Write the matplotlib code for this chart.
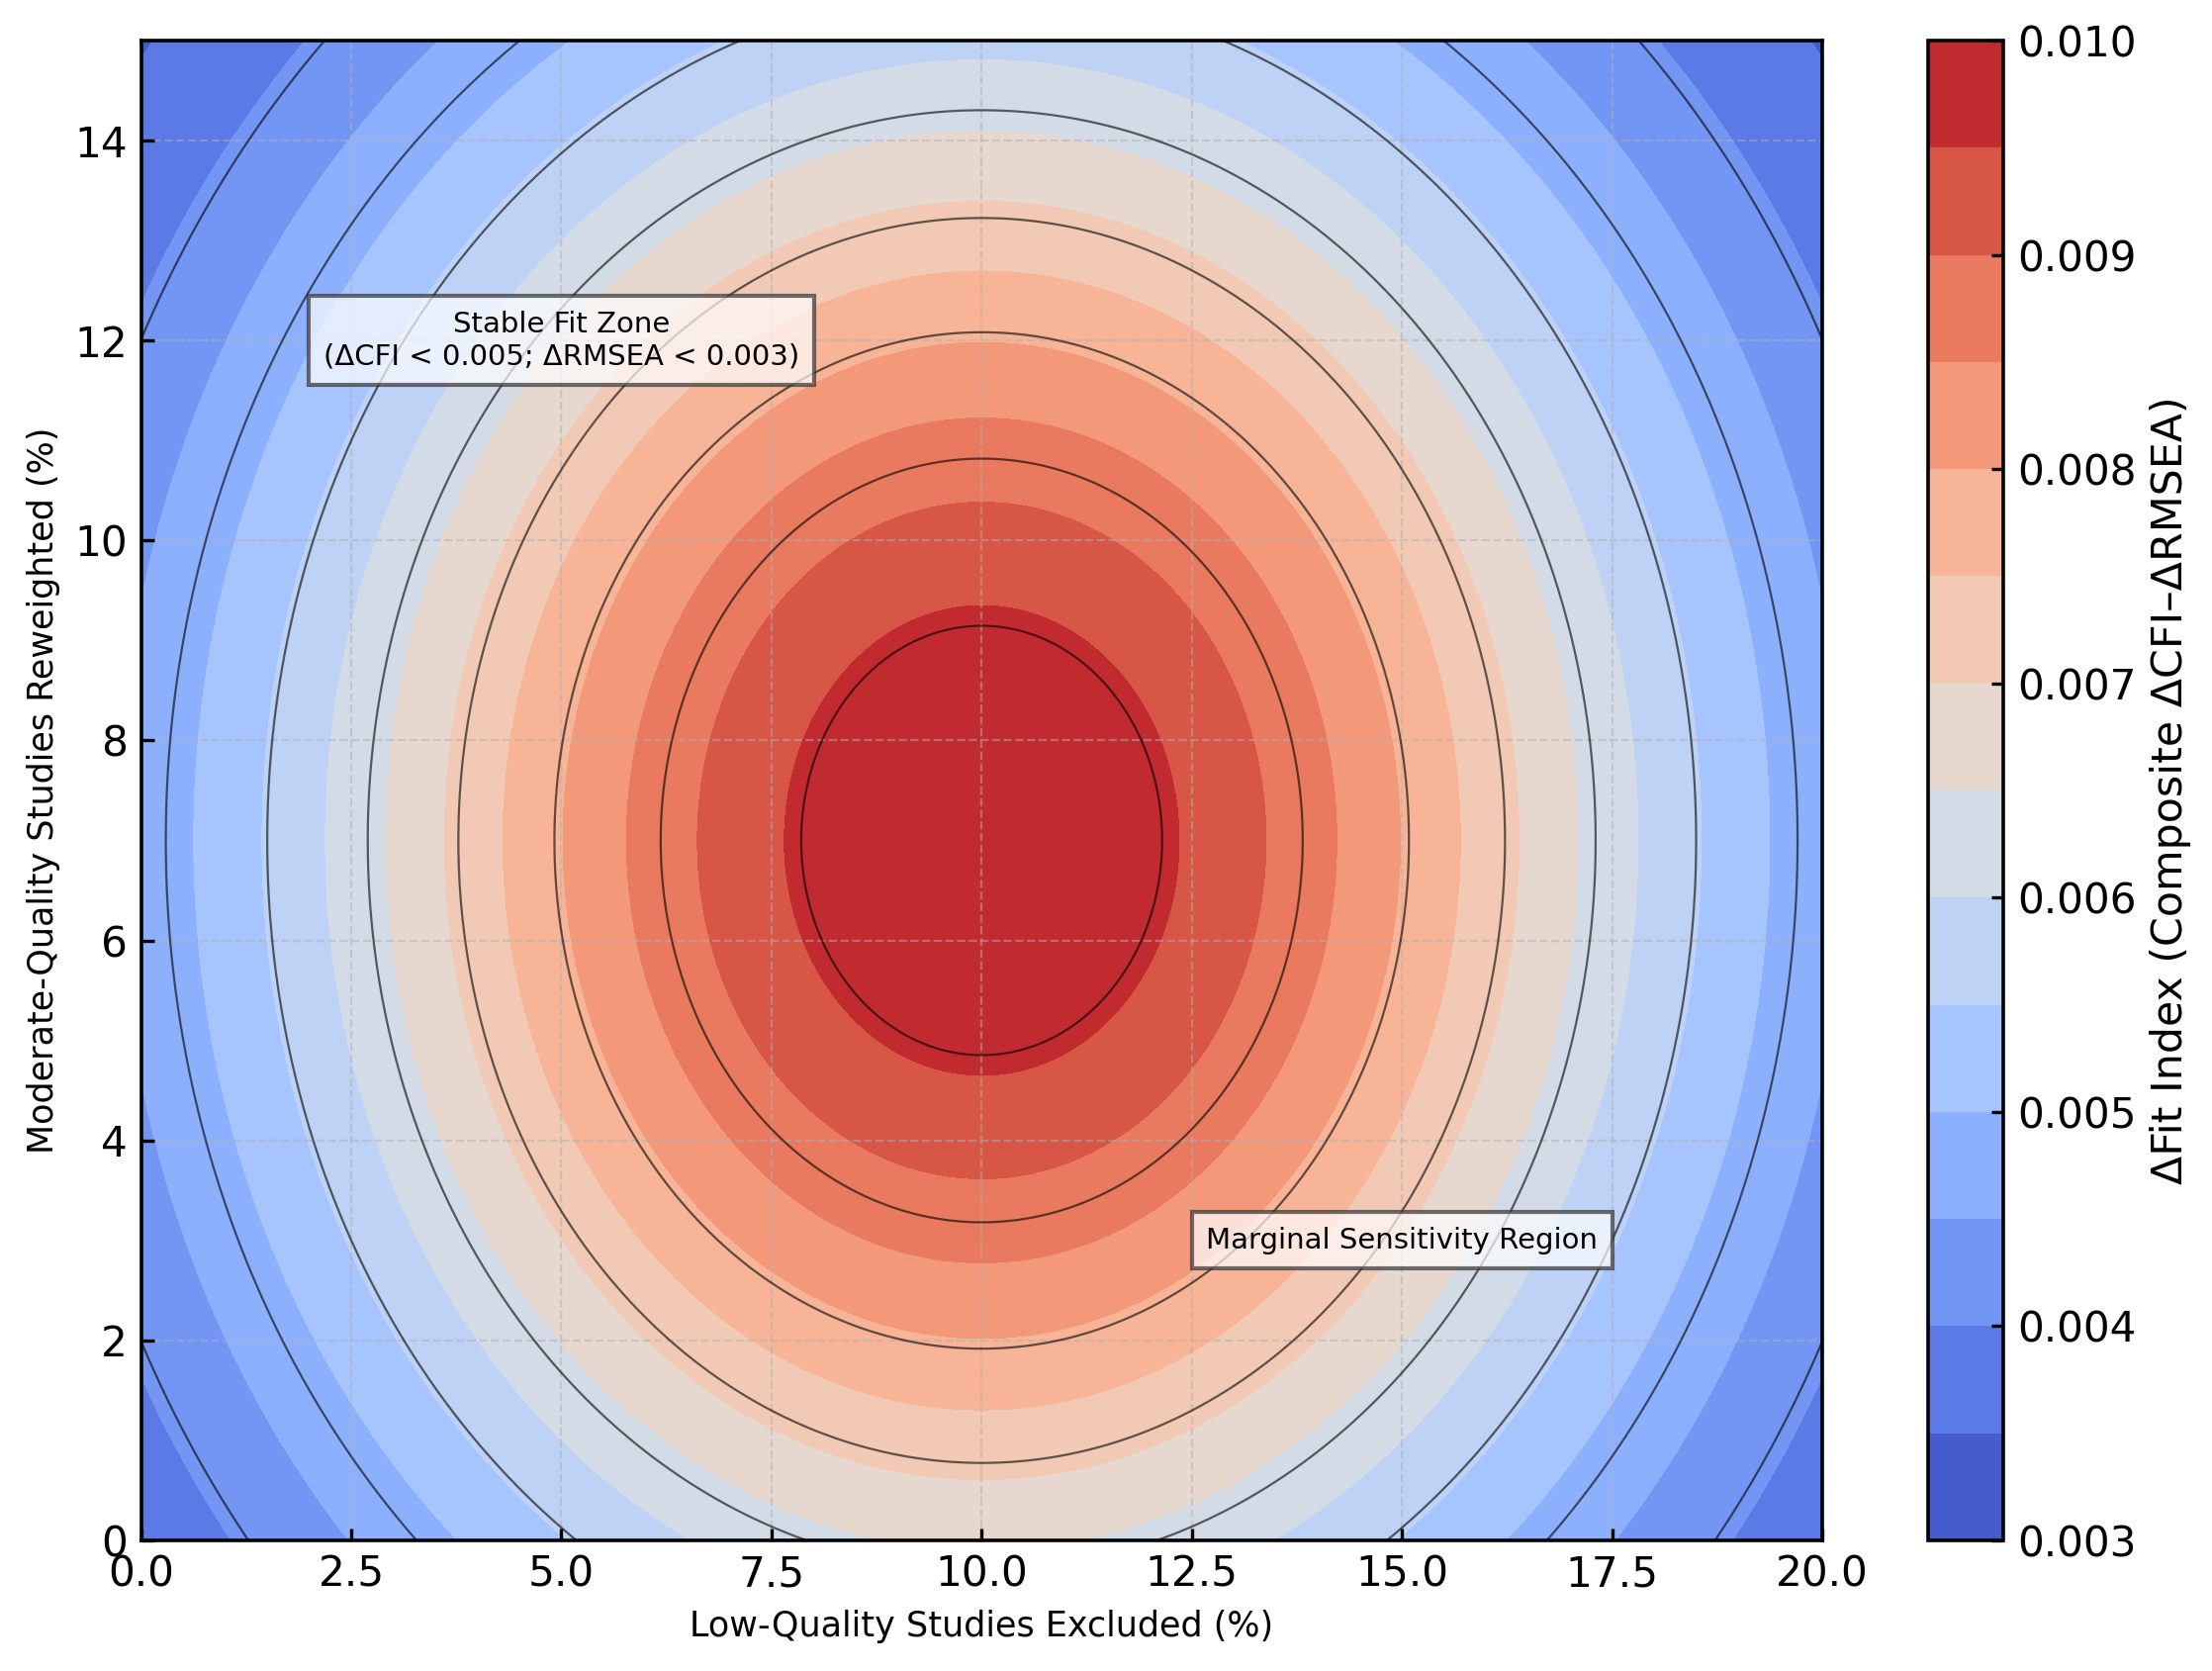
import numpy as np
import matplotlib
matplotlib.use("Agg")
import matplotlib.pyplot as plt

# surface: peak near (10 %, 7 %), falling off evenly in both directions
peak_x = 10.0
peak_y = 7.0
base_value = 0.0025
peak_rise = 0.0074999
spread = 80.0

x_range = [0.0, 20.0]
y_range = [0.0, 15.0]

fill_levels = np.linspace(0.003, 0.010, 15)
line_levels = [0.00407, 0.00481, 0.00554, 0.00635, 0.00712, 0.00793, 0.00875, 0.00958]
cbar_ticks = [0.003, 0.004, 0.005, 0.006, 0.007, 0.008, 0.009, 0.010]

x = np.linspace(x_range[0], x_range[1], 401)
y = np.linspace(y_range[0], y_range[1], 301)
X, Y = np.meshgrid(x, y)
Z = base_value + peak_rise * np.exp(-((X - peak_x) ** 2 + (Y - peak_y) ** 2) / spread)

fig = plt.figure(figsize=(11.18, 8.445), dpi=200)
ax = fig.add_axes([0.0638, 0.0782, 0.76, 0.8975])
cax = fig.add_axes([0.8716, 0.0782, 0.034, 0.8975])

cf = ax.contourf(X, Y, Z, levels=fill_levels, cmap="coolwarm")
ax.contour(X, Y, Z, levels=line_levels, colors="black", linewidths=0.8, alpha=0.6)

ax.set_xlim(x_range)
ax.set_ylim(y_range)
ax.set_xticks([0, 2.5, 5, 7.5, 10, 12.5, 15, 17.5, 20])
ax.set_xticklabels(["0.0", "2.5", "5.0", "7.5", "10.0", "12.5", "15.0", "17.5", "20.0"])
ax.set_yticks([0, 2, 4, 6, 8, 10, 12, 14])
ax.tick_params(labelsize=15.2, width=1.2, length=4.5, direction="in", pad=5)
ax.grid(True, linestyle="--", alpha=0.5)
for s in ax.spines.values():
    s.set_linewidth(1.3)

ax.set_xlabel("Low-Quality Studies Excluded (%)", fontsize=12.6, labelpad=5)
ax.set_ylabel("Moderate-Quality Studies Reweighted (%)", fontsize=12.6, labelpad=5)

box = dict(boxstyle="square,pad=0.5", facecolor="white", alpha=0.7, edgecolor="#333333", linewidth=1.5)
ax.text(5.0, 12.0, "Stable Fit Zone\n(ΔCFI < 0.005; ΔRMSEA < 0.003)",
        ha="center", va="center", fontsize=10.5, bbox=box)
ax.text(15.0, 3.0, "Marginal Sensitivity Region",
        ha="center", va="center", fontsize=10.5, bbox=box)

cb = fig.colorbar(cf, cax=cax, ticks=cbar_ticks)
cb.ax.tick_params(labelsize=15.2, width=1.2, length=4.5, direction="in", pad=5)
cb.ax.set_yticklabels([f"{t:.3f}" for t in cbar_ticks])
cb.set_label("ΔFit Index (Composite ΔCFI–ΔRMSEA)", fontsize=15.4, labelpad=5)
cb.outline.set_linewidth(1.3)

fig.savefig("out.png", dpi=200)
